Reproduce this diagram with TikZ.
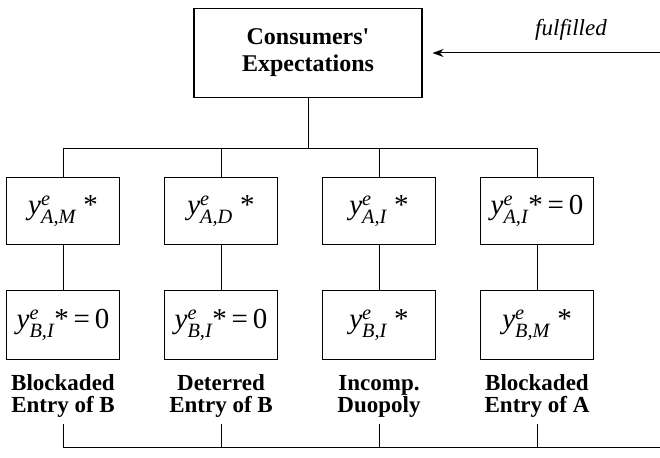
\documentclass[tikz,border=0pt]{standalone}
\usepackage{amsmath}
\usepackage{fontspec}
\setmainfont{Liberation Serif}
\usetikzlibrary{arrows.meta}

\newcommand{\ystar}[2]{$\textit{y}^{\textit{e}}_{\textit{#1}}$#2}

\begin{document}
\begin{tikzpicture}[x=1pt,y=-1pt,line width=1.1pt,
    box/.style={draw,minimum width=113pt,minimum height=67pt,inner sep=1pt,
      font=\fontsize{29}{32}\selectfont},
    outcome/.style={align=center,inner sep=0pt,
      font=\bfseries\fontsize{23}{22}\selectfont},
    link/.style={line width=1pt}]
      \useasboundingbox (0,0) rectangle (660,457) ;
      % expectations and the feedback arrow
      \node[draw,minimum width=228pt,minimum height=89pt,align=center,%
      font=\bfseries\fontsize{24}{27}\selectfont] (CE) at (308,53) %
      {Consumers\textquotesingle\\Expectations} ;
      \node[font=\itshape\fontsize{23}{24}\selectfont] (ful) at (571,30) {fulfilled} ;
      \coordinate (fin) at (660,53) ;
      \draw[link,-{Stealth[length=11pt,width=8pt]},shorten >=10pt] %
      (fin) -- (fin -| CE.east) ;
      % first row
      \node[box] (A1) at (63,211) {\ystar{A,M}{~*}} ;
      \node[box] (A2) at (221,211) {\ystar{A,D}{~*}} ;
      \node[box] (A3) at (379,211) {\ystar{A,I}{~*}} ;
      \node[box] (A4) at (537,211) {\ystar{A,I}{*\,=\,0}} ;
      % second row
      \node[box,minimum height=69pt] (B1) at (63,325) {\ystar{B,I}{*\,=\,0}} ;
      \node[box,minimum height=69pt] (B2) at (221,325) {\ystar{B,I}{*\,=\,0}} ;
      \node[box,minimum height=69pt] (B3) at (379,325) {\ystar{B,I}{~*}} ;
      \node[box,minimum height=69pt] (B4) at (537,325) {\ystar{B,M}{~*}} ;
      % outcomes
      \node[outcome] (L1) at (63,396) {Blockaded\\Entry of B} ;
      \node[outcome] (L2) at (221,396) {Deterred\\Entry of B} ;
      \node[outcome] (L3) at (379,396) {Incomp.\\Duopoly} ;
      \node[outcome] (L4) at (537,396) {Blockaded\\Entry of A} ;
      % branching
      \coordinate (top) at (308,149) ;
      \coordinate (bot) at (660,447) ;
      \draw[link] (CE.south) -- (top) ;
      \draw[link] (A1.north) |- (A4.north |- top) -- (A4.north) ;
      \draw[link] (A2.north) -- (A2.north |- top) ;
      \draw[link] (A3.north) -- (A3.north |- top) ;
      \draw[link] (A1) -- (B1) ;
      \draw[link] (A2) -- (B2) ;
      \draw[link] (A3) -- (B3) ;
      \draw[link] (A4) -- (B4) ;
      \draw[link,shorten <=6pt] (L1.south) |- (bot) ;
      \draw[link,shorten <=6pt] (L2.south) -- (L2.south |- bot) ;
      \draw[link,shorten <=6pt] (L3.south) -- (L3.south |- bot) ;
      \draw[link,shorten <=6pt] (L4.south) -- (L4.south |- bot) ;
    \end{tikzpicture}
\end{document}
